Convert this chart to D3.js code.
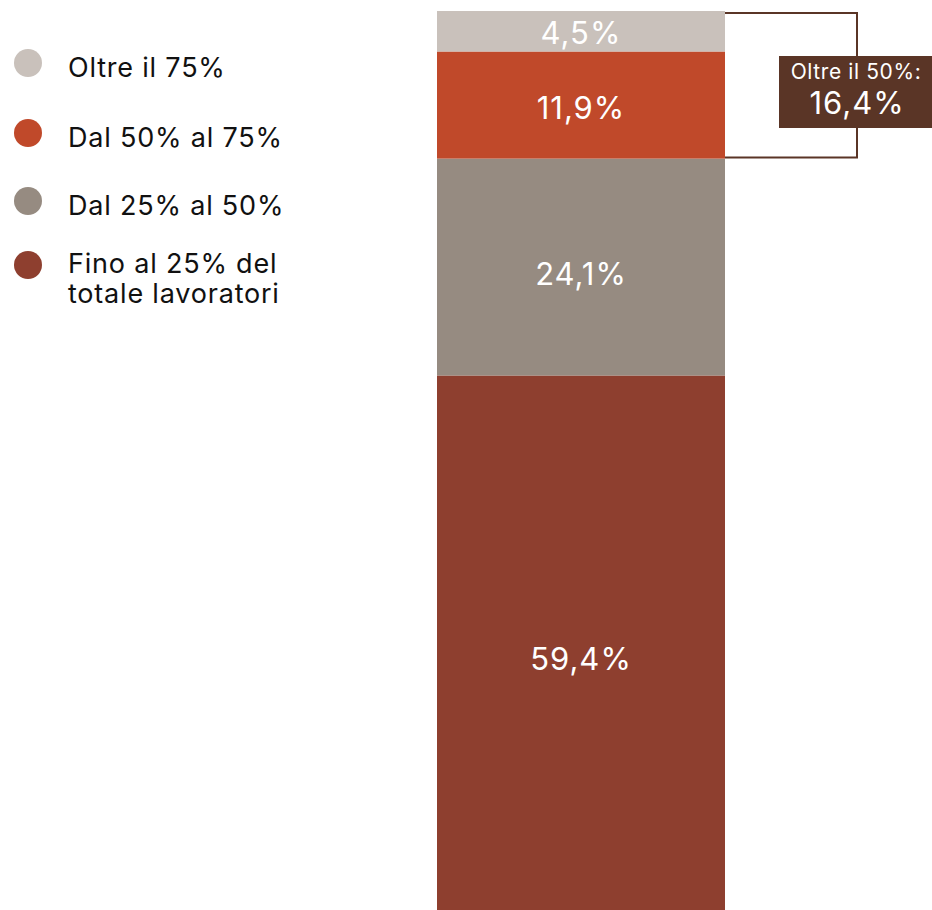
<!DOCTYPE html>
<html>
<head>
<meta charset="utf-8">
<script src="https://cdn.jsdelivr.net/npm/d3@7"></script>
<style>
  html, body { margin: 0; padding: 0; background: #fff; }
  svg { display: block; font-family: "Inter", "Lato", sans-serif; }
</style>
</head>
<body>
<svg id="chart" width="932" height="910"></svg>
<script>
// Share of companies by portion of workers involved (stack order: bottom to top)
const categories = ["Fino al 25% del totale lavoratori", "Dal 25% al 50%", "Dal 50% al 75%", "Oltre il 75%"];
const values = [59.4, 24.1, 11.9, 4.5];
const valueLabels = ["59,4%", "24,1%", "11,9%", "4,5%"];
const colors = ["#8e3f2f", "#968b81", "#c0492a", "#c9c1bb"];
const summaryTitle = "Oltre il 50%:";
const summaryValue = "16,4%";

const svg = d3.select("#chart");

const total = d3.sum(values);
const y = d3.scaleLinear().domain([0, total]).range([910, 11]);
const x = d3.scaleBand().domain(["all"]).range([437, 725]).padding(0);

// stacked segments
const stacked = [];
let acc = 0;
values.forEach((v, i) => {
  stacked.push({ key: categories[i], y0: acc, y1: acc + v, label: valueLabels[i], color: colors[i] });
  acc += v;
});

const seg = svg.append("g").selectAll("g").data(stacked).join("g");
seg.append("rect")
  .attr("x", x("all"))
  .attr("width", x.bandwidth())
  .attr("y", d => y(d.y1))
  .attr("height", d => y(d.y0) - y(d.y1))
  .attr("fill", d => d.color);
seg.append("text")
  .attr("x", x("all") + x.bandwidth() / 2)
  .attr("y", d => y(d.y1) + (y(d.y0) - y(d.y1)) * 0.53)
  .attr("dy", "0.36em")
  .attr("text-anchor", "middle")
  .attr("fill", "#fff")
  .attr("font-size", 31)
  .attr("letter-spacing", 1)
  .text(d => d.label);

// bracket around the segments above 50%
const top50 = stacked.filter(d => d.key === "Dal 50% al 75%" || d.key === "Oltre il 75%");
const bTop = y(d3.max(top50, d => d.y1)) + 2;
const bBot = y(d3.min(top50, d => d.y0)) - 1;
const bx0 = x("all") + x.bandwidth();
const bx1 = 857;
svg.append("path")
  .attr("d", `M${bx0},${bTop} H${bx1} V${bBot} H${bx0}`)
  .attr("fill", "none")
  .attr("stroke", "#5a3526")
  .attr("stroke-width", 2);

const box = svg.append("g");
box.append("rect")
  .attr("x", 779).attr("y", 56).attr("width", 153).attr("height", 72)
  .attr("fill", "#5a3526");
box.append("text")
  .attr("x", 856).attr("y", 79)
  .attr("text-anchor", "middle").attr("fill", "#fff")
  .attr("font-size", 21)
  .attr("letter-spacing", 0.6)
  .text(summaryTitle);
box.append("text")
  .attr("x", 857).attr("y", 114)
  .attr("text-anchor", "middle").attr("fill", "#fff")
  .attr("font-size", 31)
  .attr("letter-spacing", 1)
  .text(summaryValue);

// legend (top to bottom: highest share band first)
const legendItems = [
  { lines: ["Oltre il 75%"], color: colors[3], cy: 63, ty: 77 },
  { lines: ["Dal 50% al 75%"], color: colors[2], cy: 133, ty: 147 },
  { lines: ["Dal 25% al 50%"], color: colors[1], cy: 201, ty: 215 },
  { lines: ["Fino al 25% del", "totale lavoratori"], color: colors[0], cy: 265, ty: 273 }
];
const lg = svg.append("g").selectAll("g").data(legendItems).join("g");
lg.append("circle").attr("cx", 28).attr("cy", d => d.cy).attr("r", 14).attr("fill", d => d.color);
lg.append("text")
  .attr("x", 68)
  .attr("y", d => d.ty)
  .attr("font-size", 27)
  .attr("letter-spacing", 0.8)
  .attr("fill", "#111")
  .selectAll("tspan").data(d => d.lines).join("tspan")
  .attr("x", 68)
  .attr("dy", (d, i) => i === 0 ? 0 : 30)
  .text(d => d);
</script>
</body>
</html>
